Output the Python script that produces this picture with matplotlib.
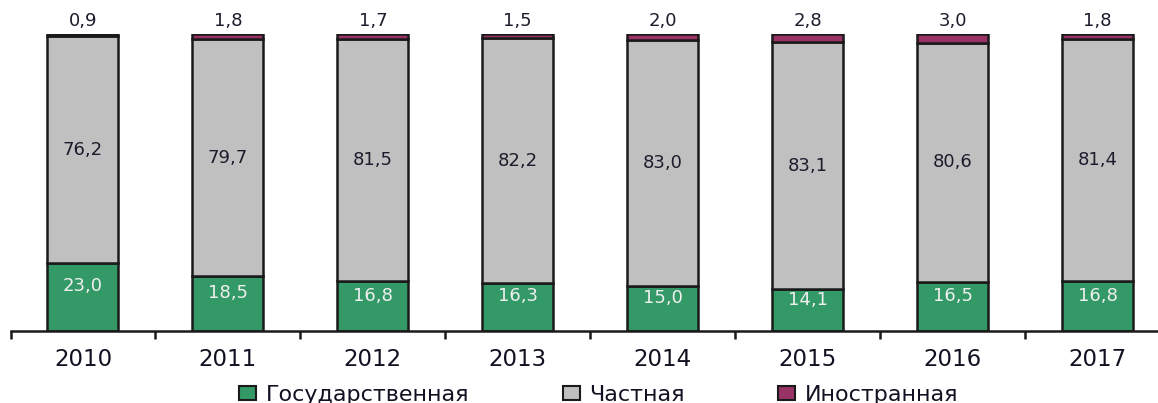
import numpy as np
import matplotlib.pyplot as plt
from matplotlib.patches import Patch

plt.rcParams['font.family'] = ['DejaVu Sans']

years = ['2010', '2011', '2012', '2013', '2014', '2015', '2016', '2017']
state = [23.0, 18.5, 16.8, 16.3, 15.0, 14.1, 16.5, 16.8]
private = [76.2, 79.7, 81.5, 82.2, 83.0, 83.1, 80.6, 81.4]
foreign = [0.9, 1.8, 1.7, 1.5, 2.0, 2.8, 3.0, 1.8]
series_names = ['Государственная', 'Частная', 'Иностранная']

colors = ['#339966', '#c0c0c0', '#993366']

W, H = 1158, 403
fig = plt.figure(figsize=(W / 100, H / 100), dpi=100)
# ось шире картинки: справа график обрезан, как в оригинале
ax = fig.add_axes([10.5 / W, (H - 331) / H, (1170 - 10.5) / W, (331 - 34) / H])

x = np.arange(len(years))
width = 0.49
state = np.array(state)
private = np.array(private)
foreign = np.array(foreign)

edge = '#1a1a1a'
ax.bar(x, state, width, color=colors[0], edgecolor=edge, linewidth=1.8)
ax.bar(x, private, width, bottom=state, color=colors[1], edgecolor=edge, linewidth=1.8)
ax.bar(x, foreign, width, bottom=state + private, color=colors[2], edgecolor=edge, linewidth=1.8)

def fmt(v):
    return f'{v:.1f}'.replace('.', ',')

for i in range(len(years)):
    ax.text(x[i], state[i] / 2 + 3.5, fmt(state[i]), ha='center', va='center',
            fontsize=13, color='#f0f0f0')
    ax.text(x[i], state[i] + private[i] / 2, fmt(private[i]), ha='center', va='center',
            fontsize=13, color='#1c1c2c')
    ax.text(x[i], state[i] + private[i] + foreign[i] + 1.2, fmt(foreign[i]), ha='center',
            va='bottom', fontsize=13, color='#1c1c2c', clip_on=False)

ax.set_xlim(-0.5, len(years) - 0.5)
ax.set_ylim(0, 100)
ax.set_yticks([])
for s in ['top', 'right', 'left']:
    ax.spines[s].set_visible(False)
ax.spines['bottom'].set_linewidth(1.8)
ax.spines['bottom'].set_color(edge)

ax.set_xticks(x)
ax.set_xticklabels(years, fontsize=16.5, color='#111122')
ax.tick_params(axis='x', which='major', length=0, pad=12)
ax.set_xticks(np.arange(len(years) + 1) - 0.5, minor=True)
ax.tick_params(axis='x', which='minor', length=6, width=1.8, color=edge)

handles = [Patch(facecolor=c, edgecolor=edge, linewidth=1.5) for c in colors]
fig.legend(handles, series_names, loc='center', bbox_to_anchor=(599 / W, 1 - 395 / H),
           ncol=3, frameon=False, fontsize=16, handlelength=0.75, handleheight=0.55,
           handletextpad=0.45, columnspacing=4.2, borderpad=0, labelcolor='#111122')

fig.savefig('out.png', dpi=100)
